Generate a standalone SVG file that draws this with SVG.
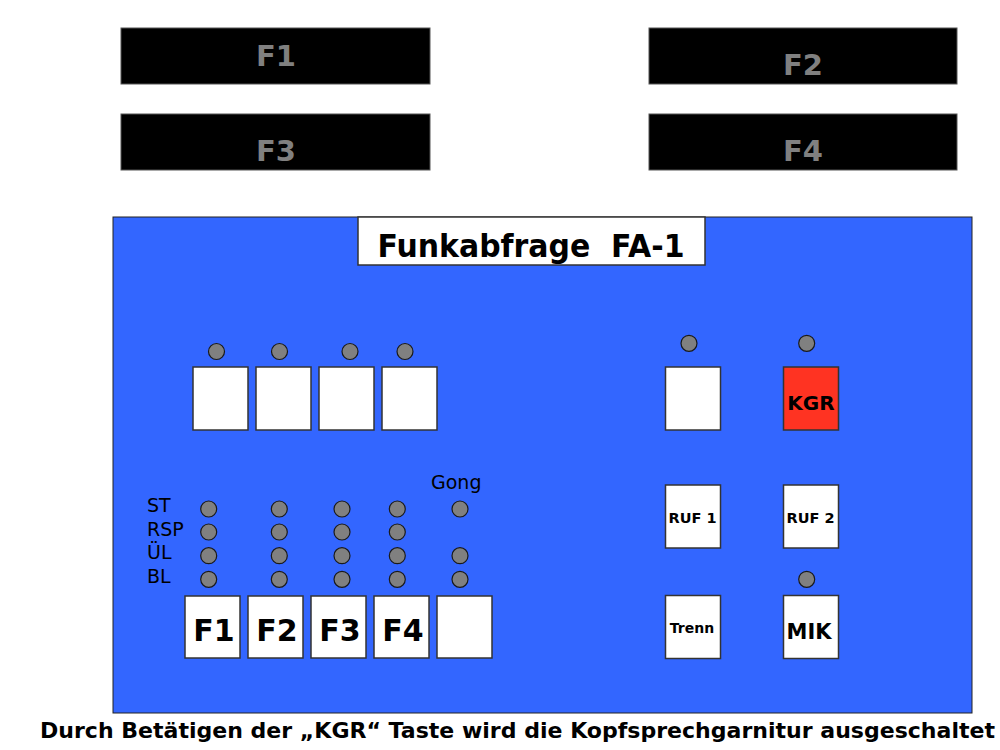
<svg xmlns="http://www.w3.org/2000/svg" width="1000" height="750" viewBox="0 0 1000 750">
<style>
  text { font-family: "DejaVu Sans", Verdana, sans-serif; }
  .bar { fill: #000000; stroke: #555555; stroke-width: 1; }
  .barlbl { fill: #808080; font-weight: bold; font-size: 29px; text-anchor: middle; }
  .panel { fill: #3366FF; stroke: #222222; stroke-width: 1; }
  .btn { fill: #FFFFFF; stroke: #333333; stroke-width: 1.5; }
  .red { fill: #FF3322; stroke: #333333; stroke-width: 1.5; }
  .led { fill: #808080; stroke: #1a1a1a; stroke-width: 1.2; }
  .big { font-weight: bold; font-size: 30px; text-anchor: middle; fill: #000; }
  .lbl { font-size: 19px; fill: #000; }
  .b { font-weight: bold; text-anchor: middle; fill: #000; }
</style>

<g id="display-F1"><rect class="bar" x="121" y="28" width="309" height="56"/><text class="barlbl" x="276" y="66">F1</text></g>
<g id="display-F2"><rect class="bar" x="649" y="28" width="308" height="56"/><text class="barlbl" x="803" y="75">F2</text></g>
<g id="display-F3"><rect class="bar" x="121" y="114" width="309" height="56"/><text class="barlbl" x="276" y="161">F3</text></g>
<g id="display-F4"><rect class="bar" x="649" y="114" width="308" height="56"/><text class="barlbl" x="803" y="161">F4</text></g>

<g id="panel"><rect class="panel" x="113" y="217" width="859" height="496"/></g>

<g id="title"><rect class="btn" x="358" y="217" width="347" height="48" stroke-width="1"/>
<text x="531" y="257" font-weight="bold" font-size="32" text-anchor="middle" textLength="307" lengthAdjust="spacingAndGlyphs" xml:space="preserve">Funkabfrage  FA-1</text></g>

<g id="upper-keys">
  <circle class="led" cx="216.5" cy="351.5" r="8"/>
  <circle class="led" cx="279.5" cy="351.5" r="8"/>
  <circle class="led" cx="350" cy="351.5" r="8"/>
  <circle class="led" cx="405" cy="351.5" r="8"/>
  <rect class="btn" x="193" y="367" width="55" height="63"/>
  <rect class="btn" x="256" y="367" width="55" height="63"/>
  <rect class="btn" x="319" y="367" width="55" height="63"/>
  <rect class="btn" x="382" y="367" width="55" height="63"/>
</g>

<g id="status-labels">
  <text class="lbl" x="147" y="512">ST</text>
  <text class="lbl" x="147" y="536">RSP</text>
  <text class="lbl" x="147" y="559">ÜL</text>
  <text class="lbl" x="147" y="583">BL</text>
  <text class="lbl" x="431" y="489">Gong</text>
</g>

<g id="status-leds">
  <circle class="led" cx="208.7" cy="509" r="8"/>
  <circle class="led" cx="208.7" cy="532" r="8"/>
  <circle class="led" cx="208.7" cy="555.7" r="8"/>
  <circle class="led" cx="208.7" cy="579.3" r="8"/>
  <circle class="led" cx="279.3" cy="509" r="8"/>
  <circle class="led" cx="279.3" cy="532" r="8"/>
  <circle class="led" cx="279.3" cy="555.7" r="8"/>
  <circle class="led" cx="279.3" cy="579.3" r="8"/>
  <circle class="led" cx="342" cy="509" r="8"/>
  <circle class="led" cx="342" cy="532" r="8"/>
  <circle class="led" cx="342" cy="555.7" r="8"/>
  <circle class="led" cx="342" cy="579.3" r="8"/>
  <circle class="led" cx="397.3" cy="509" r="8"/>
  <circle class="led" cx="397.3" cy="532" r="8"/>
  <circle class="led" cx="397.3" cy="555.7" r="8"/>
  <circle class="led" cx="397.3" cy="579.3" r="8"/>
  <circle class="led" cx="460" cy="509" r="8"/>
  <circle class="led" cx="460" cy="555.7" r="8"/>
  <circle class="led" cx="460" cy="579.3" r="8"/>
</g>

<g id="key-F1"><rect class="btn" x="185" y="596" width="55" height="62"/><text class="big" x="214" y="641">F1</text></g>
<g id="key-F2"><rect class="btn" x="248" y="596" width="55" height="62"/><text class="big" x="277" y="641">F2</text></g>
<g id="key-F3"><rect class="btn" x="311" y="596" width="55" height="62"/><text class="big" x="340" y="641">F3</text></g>
<g id="key-F4"><rect class="btn" x="374" y="596" width="55" height="62"/><text class="big" x="403" y="641">F4</text></g>
<g id="key-gong"><rect class="btn" x="437" y="596" width="55" height="62"/></g>

<g id="key-blank-right">
  <circle class="led" cx="689" cy="343.3" r="8"/>
  <rect class="btn" x="665.5" y="367" width="55" height="63"/>
</g>
<g id="key-KGR">
  <circle class="led" cx="806.7" cy="343.3" r="8"/>
  <rect class="red" x="783.5" y="367" width="55" height="63"/>
  <text class="b" x="811" y="410" font-size="20">KGR</text>
</g>
<g id="key-RUF1"><rect class="btn" x="665.5" y="485" width="55" height="63"/><text class="b" x="692.5" y="523" font-size="14.5">RUF 1</text></g>
<g id="key-RUF2"><rect class="btn" x="783.5" y="485" width="55" height="63"/><text class="b" x="810.5" y="523" font-size="14.5">RUF 2</text></g>
<g id="key-Trenn"><rect class="btn" x="665.5" y="595.5" width="55" height="63"/><text class="b" x="692" y="633" font-size="14">Trenn</text></g>
<g id="key-MIK">
  <circle class="led" cx="806.7" cy="579.3" r="8"/>
  <rect class="btn" x="783.5" y="595.5" width="55" height="63"/>
  <text class="b" x="809" y="639" font-size="21">MIK</text>
</g>

<g id="connectors"/>

<g id="caption"><text x="40" y="738" font-weight="bold" font-size="22" textLength="955" lengthAdjust="spacingAndGlyphs">Durch Betätigen der „KGR“ Taste wird die Kopfsprechgarnitur ausgeschaltet</text></g>
</svg>
